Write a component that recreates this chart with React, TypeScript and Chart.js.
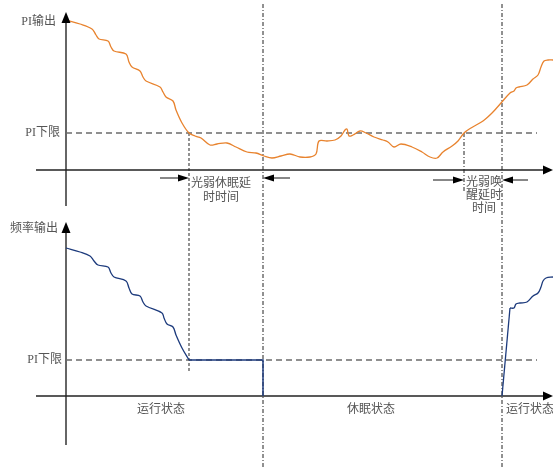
import React, { useEffect, useRef } from "react";
import { Chart, registerables } from "chart.js";
Chart.register(...registerables);

// ---- data (time units along x, output level above each panel's baseline) ----
const piTime = [0, 14, 26, 30, 33, 42, 45, 48, 60, 63, 66, 74, 77, 80, 94, 97, 100, 107, 110, 116, 123, 129, 135, 144, 151, 161, 170, 181, 190, 198, 206, 215, 224, 234, 244, 250, 253, 261, 269, 275, 279, 281, 283, 287, 294, 300, 308, 317, 322, 328, 335, 346, 356, 364, 371, 377, 386, 392, 398, 405, 417, 426, 435, 444, 448, 450, 453, 461, 467, 472, 475, 478, 482, 487];
const piValue = [150, 146, 141, 135, 131, 129, 123, 119, 116, 108, 103, 99, 93, 89, 83, 78, 73, 69, 60, 47, 37, 34, 32, 25, 26, 27, 23, 18, 17, 14, 12, 14, 16, 13, 13, 16, 29, 29, 30, 34, 40, 41, 34, 35, 39, 37, 33, 30, 28, 23, 26, 23, 18, 13, 12, 18, 24, 29, 37, 42, 49, 57, 67, 77, 79, 82, 83, 85, 91, 95, 103, 109, 110, 110];

const freqTime = [0, 14, 24, 28, 32, 42, 45, 48, 60, 63, 66, 74, 77, 80, 96, 98, 101, 107, 110, 116, 123];
const freqValue = [148, 144, 140, 135, 131, 129, 123, 119, 115, 108, 102, 100, 94, 90, 83, 78, 72, 69, 61, 48, 36];
const freqHoldTime = [123, 197, 197];
const freqHoldValue = [36, 36, 0];
const freqJumpTime = [436, 444];
const freqJumpValue = [0, 88];
const freqWakeTime = [444, 448, 450, 454, 461, 467, 472, 475, 477, 480, 487];
const freqWakeValue = [88, 88, 92, 93, 94, 100, 103, 109, 115, 118, 119];

const piLowerTop = 37;
const piLowerBottom = 36;
const dashEnd = 471;
const axisStart = -30;
const axisEnd = 486;
const markTimes = [123, 197, 398, 436]; // sleep delay start, sleep, wake delay start, wake

const yAxisLabels = ["PI输出", "PI下限", "频率输出", "PI下限"];
const stateLabels = ["运行状态", "休眠状态", "运行状态"];
const sleepDelayLabel = ["光弱休眠延", "时时间"];
const wakeDelayLabel = ["光弱唤", "醒延时", "时间"];

const pts = (ts: number[], vs: number[]) => ts.map((t, i) => ({ x: t, y: vs[i] }));

export default function App() {
  const ref = useRef<HTMLCanvasElement | null>(null);
  useEffect(() => {
    if (!ref.current) return;
    const orange = "#E8832E";
    const navy = "#1C3A7C";
    const base = { pointRadius: 0, fill: false, tension: 0 } as any;
    const curve = { ...base, tension: 0.35 } as any;
    const dashGray = { ...base, borderColor: "#6b6b6b", borderWidth: 1.5, borderDash: [6, 4] };
    const vDash = { ...base, borderColor: "#222", borderWidth: 1, borderDash: [4, 2, 1, 2] };
    const [t1, t2, t3, t4] = markTimes;

    const arrowPlugin = {
      id: "decor",
      afterDatasetsDraw(chart: any) {
        const ctx = chart.ctx as CanvasRenderingContext2D;
        const xs = chart.scales.x, yt = chart.scales.yTop, yb = chart.scales.yBot;
        const X = (t: number) => xs.getPixelForValue(t);
        const YT = (v: number) => yt.getPixelForValue(v);
        const YB = (v: number) => yb.getPixelForValue(v);
        ctx.save();
        ctx.fillStyle = "#000";
        const tri = (a: number[], b: number[], c: number[]) => {
          ctx.beginPath();
          ctx.moveTo(a[0], a[1]); ctx.lineTo(b[0], b[1]); ctx.lineTo(c[0], c[1]);
          ctx.closePath(); ctx.fill();
        };
        const up = (x: number, y: number) => tri([x, y], [x - 4.5, y + 11], [x + 4.5, y + 11]);
        const right = (x: number, y: number, l = 11, h = 4.5) => tri([x, y], [x - l, y - h], [x - l, y + h]);
        const left = (x: number, y: number, l = 11, h = 4.5) => tri([x, y], [x + l, y - h], [x + l, y + h]);
        up(X(0), YT(158));
        up(X(0), YB(174));
        right(X(axisEnd) + 1, YT(0), 10, 4.5);
        right(X(axisEnd) + 1, YB(0), 10, 4.5);
        right(X(t1), YT(-8), 11, 3.5);
        left(X(t2), YT(-8), 11, 3.5);
        right(X(t3), YT(-10), 11, 3.5);
        left(X(t4), YT(-10), 11, 3.5);

        ctx.fillStyle = "#555";
        ctx.font = '12px "Liberation Serif", "Noto Sans CJK SC"';
        ctx.textBaseline = "middle";
        ctx.textAlign = "right";
        ctx.fillText(yAxisLabels[0], X(0) - 10, YT(148));
        ctx.fillText(yAxisLabels[1], X(0) - 6, YT(piLowerTop));
        ctx.fillText(yAxisLabels[2], X(0) - 8, YB(167));
        ctx.fillText(yAxisLabels[3], X(0) - 4, YB(piLowerBottom));
        ctx.textAlign = "center";
        sleepDelayLabel.forEach((s, i) => ctx.fillText(s, X(t1) + 32, YT(-14) + i * 14));
        wakeDelayLabel.forEach((s, i) => ctx.fillText(s, X(t3) + 20, YT(-13) + i * 13));
        ctx.fillText(stateLabels[0], X(95), YB(-14));
        ctx.fillText(stateLabels[1], X(305), YB(-14));
        ctx.textAlign = "left";
        ctx.fillText(stateLabels[2], X(t4) + 4, YB(-14));
        ctx.restore();
      },
    };

    const chart = new Chart(ref.current, {
      type: "line",
      data: {
        datasets: [
          { ...curve, data: pts(piTime, piValue), yAxisID: "yTop", borderColor: orange, borderWidth: 1.3 },
          { ...curve, data: pts(freqTime, freqValue), yAxisID: "yBot", borderColor: navy, borderWidth: 1.3 },
          { ...base, data: pts(freqHoldTime, freqHoldValue), yAxisID: "yBot", borderColor: navy, borderWidth: 1.5 },
          { ...base, data: pts(freqJumpTime, freqJumpValue), yAxisID: "yBot", borderColor: navy, borderWidth: 1.3 },
          { ...curve, data: pts(freqWakeTime, freqWakeValue), yAxisID: "yBot", borderColor: navy, borderWidth: 1.3 },
          { ...dashGray, data: pts([0, dashEnd], [piLowerTop, piLowerTop]), yAxisID: "yTop" },
          { ...dashGray, data: pts([0, dashEnd], [piLowerBottom, piLowerBottom]), yAxisID: "yBot" },
          // axes
          { ...base, data: pts([axisStart, axisEnd - 8], [0, 0]), yAxisID: "yTop", borderColor: "#222", borderWidth: 1.5 },
          { ...base, data: pts([axisStart, axisEnd - 8], [0, 0]), yAxisID: "yBot", borderColor: "#222", borderWidth: 1.5 },
          { ...base, data: pts([0, 0], [-36, 150]), yAxisID: "yTop", borderColor: "#666", borderWidth: 2 },
          { ...base, data: pts([0, 0], [-49, 166]), yAxisID: "yBot", borderColor: "#666", borderWidth: 2 },
          // event markers
          { ...base, data: pts([t1, t1], [piLowerTop, -203]), yAxisID: "yTop", borderColor: "#777", borderWidth: 1.6, borderDash: [3, 2] },
          { ...vDash, data: pts([t2, t2], [166, -297]), yAxisID: "yTop" },
          { ...vDash, data: pts([t3, t3], [piLowerTop, -22]), yAxisID: "yTop" },
          { ...vDash, data: pts([t4, t4], [166, -297]), yAxisID: "yTop" },
          // delay arrows
          { ...base, data: pts([t1 - 29, t1 - 8], [-8, -8]), yAxisID: "yTop", borderColor: "#111", borderWidth: 1 },
          { ...base, data: pts([t2 + 27, t2 + 8], [-8, -8]), yAxisID: "yTop", borderColor: "#111", borderWidth: 1 },
          { ...base, data: pts([t3 - 31, t3 - 8], [-10, -10]), yAxisID: "yTop", borderColor: "#111", borderWidth: 1 },
          { ...base, data: pts([t4 + 26, t4 + 8], [-10, -10]), yAxisID: "yTop", borderColor: "#111", borderWidth: 1 },
        ] as any,
      },
      options: {
        responsive: false,
        maintainAspectRatio: false,
        animation: false,
        layout: { padding: 0 },
        plugins: { legend: { display: false }, tooltip: { enabled: false } },
        scales: {
          x: { type: "linear", min: -66, max: 487, display: false },
          yTop: { type: "linear", min: -297, max: 170, display: false },
          yBot: { type: "linear", min: -71, max: 396, display: false },
        },
      } as any,
      plugins: [arrowPlugin],
    });
    return () => chart.destroy();
  }, []);

  return (
    <div style={{ position: "fixed", left: 0, top: 0, width: 553, height: 467, background: "#fff" }}>
      <canvas ref={ref} width={553} height={467} style={{ display: "block" }} />
    </div>
  );
}
